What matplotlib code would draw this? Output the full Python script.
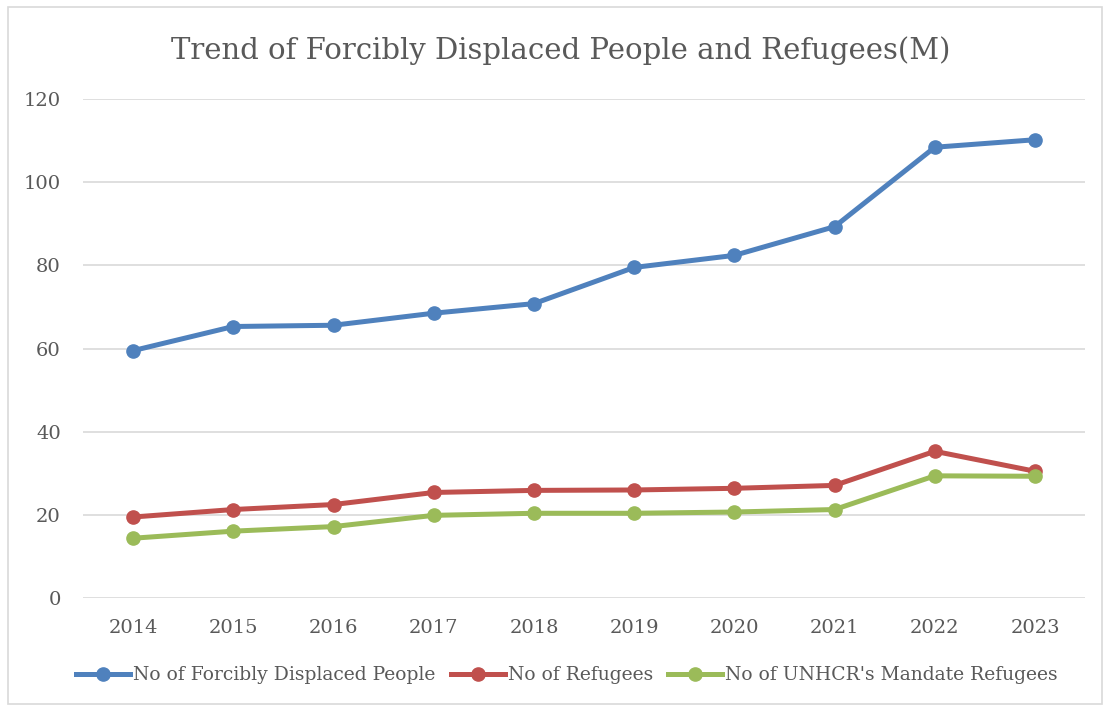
import matplotlib.pyplot as plt
from matplotlib.patches import Rectangle

years = ['2014', '2015', '2016', '2017', '2018', '2019', '2020', '2021', '2022', '2023']
displaced = [59.5, 65.3, 65.6, 68.5, 70.8, 79.5, 82.4, 89.3, 108.4, 110.2]
refugees = [19.5, 21.3, 22.5, 25.4, 25.9, 26.0, 26.4, 27.1, 35.3, 30.5]
mandate = [14.4, 16.1, 17.2, 19.9, 20.4, 20.4, 20.7, 21.3, 29.4, 29.3]

gray = '#595959'
plt.rcParams['font.family'] = ['DejaVu Serif']

fig = plt.figure(figsize=(11.05, 7.07), dpi=100)
ax = fig.add_axes([0.0751, 0.154, 0.9069, 0.706])

# outer border of the chart
fig.patches.append(Rectangle((0.007, 0.004), 0.99, 0.986, transform=fig.transFigure,
                             fill=False, edgecolor='#D9D9D9', linewidth=1.2))

x = list(range(len(years)))
ax.plot(x, displaced, color='#4F81BD', lw=3.6, marker='o', ms=9.5, label='No of Forcibly Displaced People')
ax.plot(x, refugees, color='#C0504D', lw=3.6, marker='o', ms=9.5, label='No of Refugees')
ax.plot(x, mandate, color='#9BBB59', lw=3.6, marker='o', ms=9.5, label="No of UNHCR's Mandate Refugees")

ax.set_xlim(-0.5, len(years) - 0.5)
ax.set_ylim(0, 120)
ax.set_yticks(range(0, 121, 20))
ax.set_xticks(x)
ax.set_xticklabels(years)
ax.grid(axis='y', color='#D9D9D9', lw=1.2)
ax.set_axisbelow(True)
for s in ax.spines.values():
    s.set_visible(False)
ax.tick_params(length=0, labelsize=14, labelcolor=gray)
ax.tick_params(axis='x', pad=15)
ax.tick_params(axis='y', pad=16)

fig.text(0.507, 0.929, 'Trend of Forcibly Displaced People and Refugees(M)',
         ha='center', va='center', fontsize=21, color=gray)

fig.legend(loc='center', bbox_to_anchor=(0.513, 0.045), ncol=3, frameon=False,
           fontsize=13.5, labelcolor=gray, handlelength=2.9, handletextpad=0.15,
           columnspacing=0.8)

fig.savefig('out.png', dpi=100)
